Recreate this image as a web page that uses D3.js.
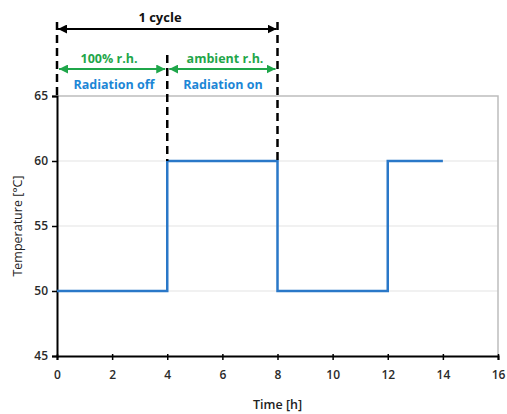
<!DOCTYPE html>
<html><head><meta charset="utf-8">
<script src="https://cdn.jsdelivr.net/npm/d3@7"></script>
<style>body{margin:0;background:#fff}svg{display:block}</style>
</head><body><svg id="c" width="507" height="414"></svg>
<script>
const timeH = [0, 4, 4, 8, 8, 12, 12, 14];
const tempC = [50, 50, 60, 60, 50, 50, 60, 60];
const xTicks = [0, 2, 4, 6, 8, 10, 12, 14, 16];
const yTicks = [45, 50, 55, 60, 65];
const phaseBounds = [0, 4, 8];
const rhLabels = ["100% r.h.", "ambient r.h."];
const radLabels = ["Radiation off", "Radiation on"];

const svg = d3.select("#c");
const m = {l: 57, r: 9, t: 96, b: 58};
const W = 507, H = 414;
const x = d3.scaleLinear().domain([0, 16]).range([m.l, W - m.r]);
const y = d3.scaleLinear().domain([45, 65]).range([H - m.b, m.t]);
const font = "'Open Sans', 'DejaVu Sans', sans-serif";

const defs = svg.append("defs");
function marker(id, col) {
  defs.append("marker").attr("id", id).attr("viewBox", "0 0 10 10").attr("refX", 10).attr("refY", 5)
    .attr("markerWidth", 4.5).attr("markerHeight", 4.5).attr("orient", "auto-start-reverse").attr("markerUnits","strokeWidth")
    .append("path").attr("d", "M0,0L10,5L0,10z").attr("fill", col);
}
marker("ak", "#000"); marker("ag", "#1fa64a");

// grid
svg.append("g").selectAll("line").data(yTicks.filter(d => d > 45 && d < 65)).join("line")
  .attr("x1", x(0)).attr("x2", x(16)).attr("y1", d => y(d)).attr("y2", d => y(d))
  .attr("stroke", "#e3e3e3").attr("stroke-width", 1);
// top and right border
svg.append("path").attr("d", `M${x(0)},${y(65)}H${x(16)}V${y(45)}`).attr("fill", "none")
  .attr("stroke", "#bdbdbd").attr("stroke-width", 1.5);

// axes
const xa = svg.append("g").attr("transform", `translate(0,${y(45)})`)
  .call(d3.axisBottom(x).tickValues(xTicks).tickSize(4).tickPadding(10));
const ya = svg.append("g").attr("transform", `translate(${x(0)},0)`)
  .call(d3.axisLeft(y).tickValues(yTicks).tickSize(5).tickPadding(4));
[xa, ya].forEach(a => {
  a.select(".domain").attr("stroke", "#000").attr("stroke-width", 2);
  a.selectAll(".tick line").attr("stroke", "#000").attr("stroke-width", 1.5);
  a.selectAll("text").attr("font-family", font).attr("font-size", 12).attr("font-weight", 600).attr("fill", "#2a2a2a");
});
xa.selectAll(".tick line").attr("y1", -2);

svg.append("text").attr("x", x(8)).attr("y", 409).attr("text-anchor", "middle")
  .attr("font-family", font).attr("font-size", 12.5).attr("font-weight", 600).attr("fill", "#222").text("Time [h]");
svg.append("text").attr("transform", `translate(22,${y(55)}) rotate(-90)`).attr("text-anchor", "middle")
  .attr("font-family", font).attr("font-size", 12.5).attr("fill", "#222").text("Temperature [°C]");

// data line
svg.append("path").datum(timeH.map((t, i) => [t, tempC[i]]))
  .attr("d", d3.line().x(d => x(d[0])).y(d => y(d[1])))
  .attr("fill", "none").attr("stroke", "#2a78c8").attr("stroke-width", 2.5);

// dashed lines
const dashTop = [22, 55, 22];
const dashBot = [y(65), y(60), y(60)];
phaseBounds.forEach((b, i) => {
  svg.append("line").attr("x1", x(b)).attr("x2", x(b)).attr("y1", dashTop[i]).attr("y2", dashBot[i])
    .attr("stroke", "#000").attr("stroke-width", 2.5).attr("stroke-dasharray", "8,5");
});
// cycle arrow
svg.append("line").attr("x1", x(0) + 1).attr("x2", x(8) - 1).attr("y1", 29).attr("y2", 29)
  .attr("stroke", "#000").attr("stroke-width", 2).attr("marker-start", "url(#ak)").attr("marker-end", "url(#ak)");
svg.append("text").attr("x", 160).attr("y", 22).attr("text-anchor", "middle")
  .attr("font-family", font).attr("font-size", 13).attr("font-weight", 700).attr("fill", "#111").text("1 cycle");
// phase arrows
const rhCx = [109, 225], radCx = [114, 223];
[0, 1].forEach(i => {
  svg.append("line").attr("x1", x(phaseBounds[i]) + 2).attr("x2", x(phaseBounds[i] + 4) - 2).attr("y1", 69).attr("y2", 69)
    .attr("stroke", "#1fa64a").attr("stroke-width", 2).attr("marker-start", "url(#ag)").attr("marker-end", "url(#ag)");
  svg.append("text").attr("x", rhCx[i]).attr("y", 63).attr("text-anchor", "middle")
    .attr("font-family", font).attr("font-size", 12.5).attr("font-weight", 700).attr("fill", "#1fa64a").text(rhLabels[i]);
  svg.append("text").attr("x", radCx[i]).attr("y", 89).attr("text-anchor", "middle")
    .attr("font-family", font).attr("font-size", 12.5).attr("font-weight", 700).attr("fill", "#1c86d6").text(radLabels[i]);
});
</script></body></html>
